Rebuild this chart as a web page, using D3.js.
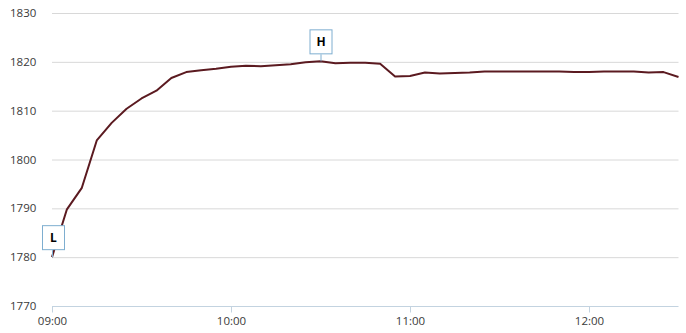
<!DOCTYPE html>
<html>
<head>
<meta charset="utf-8">
<script src="https://cdn.jsdelivr.net/npm/d3@7"></script>
<style>
  body { margin: 0; background: #fff; }
  text { font-family: "Open Sans", sans-serif; }
</style>
</head>
<body>
<script>
var w = 686;
var h = 333;

// minutes are 5 min steps from 09:00
var times = ["09:00","09:05","09:10","09:15","09:20","09:25","09:30","09:35","09:40","09:45",
  "09:50","09:55","10:00","10:05","10:10","10:15","10:20","10:25","10:30","10:35",
  "10:40","10:45","10:50","10:55","11:00","11:05","11:10","11:15","11:20","11:25",
  "11:30","11:35","11:40","11:45","11:50","11:55","12:00","12:05","12:10","12:15",
  "12:20","12:25","12:30"];
var prices = [1780.0,1789.8,1794.2,1803.9,1807.5,1810.4,1812.5,1814.1,1816.7,1817.9,
  1818.3,1818.6,1819.0,1819.2,1819.1,1819.3,1819.5,1819.9,1820.1,1819.7,
  1819.8,1819.8,1819.6,1817.0,1817.1,1817.8,1817.6,1817.7,1817.8,1818.0,
  1818.0,1818.0,1818.0,1818.0,1818.0,1817.9,1817.9,1818.0,1818.0,1818.0,
  1817.8,1817.9,1816.9];
var xTicks = ["09:00","10:00","11:00","12:00"];
var yTicks = [1770,1780,1790,1800,1810,1820,1830];

var parse = d3.timeParse("%H:%M");
var data = times.map(function(t, i) { return {t: parse(t), v: prices[i]}; });

// "top" is taken by window.top, so plot edges get their own names
var pLeft = 52, pRight = 678.5, pTop = 13, pBottom = 306;

var x = d3.scaleTime()
  .domain([parse("09:00"), parse("12:30")])
  .range([pLeft, pRight]);
var y = d3.scaleLinear()
  .domain([1770, 1830])
  .range([pBottom, pTop]);

var svg = d3.select("body").append("svg")
  .attr("width", w)
  .attr("height", h);

// grid
svg.append("g").selectAll("line")
  .data(yTicks.slice(1))
  .enter().append("line")
  .attr("x1", pLeft).attr("x2", pRight)
  .attr("y1", function(d) { return y(d) + 0.5; })
  .attr("y2", function(d) { return y(d) + 0.5; })
  .attr("stroke", "#d8d8d8");

// y labels
svg.append("g").selectAll("text")
  .data(yTicks)
  .enter().append("text")
  .attr("x", 10)
  .attr("y", function(d) { return y(d); })
  .attr("dy", "0.35em")
  .attr("font-size", "11.5px")
  .attr("fill", "#3a3a3a")
  .text(function(d) { return d; });

// x axis
var xAxis = d3.axisBottom(x)
  .tickValues(xTicks.map(parse))
  .tickFormat(d3.timeFormat("%H:%M"))
  .tickSize(6)
  .tickPadding(4);

var gx = svg.append("g")
  .attr("transform", "translate(0," + (pBottom + 0.5) + ")")
  .call(xAxis);
gx.select(".domain").attr("stroke", "#c3d3e0").attr("d", "M" + pLeft + ",0H" + pRight);
gx.selectAll(".tick line").attr("stroke", "#c3d3e0");
gx.selectAll(".tick text")
  .attr("font-family", "Open Sans, sans-serif")
  .attr("font-size", "11.5px")
  .attr("fill", "#3a3a3a");

// price line
var line = d3.line()
  .x(function(d) { return x(d.t); })
  .y(function(d) { return y(d.v); });

svg.append("path")
  .datum(data)
  .attr("d", line)
  .attr("fill", "none")
  .attr("stroke", "#5b1a20")
  .attr("stroke-width", 2)
  .attr("stroke-linejoin", "round");

// high / low flags
var hi = data[d3.maxIndex(prices)];
var lo = data[d3.minIndex(prices)];

function flag(d, label, dx) {
  var px = x(d.t), py = y(d.v);
  var g = svg.append("g");
  g.append("line")
    .attr("x1", px + 0.5).attr("x2", px + 0.5)
    .attr("y1", py - 7).attr("y2", py)
    .attr("stroke", "#7eaed0");
  g.append("rect")
    .attr("x", px + dx - 11 + 0.5)
    .attr("y", py - 31.5)
    .attr("width", 22)
    .attr("height", 24)
    .attr("fill", "#fff")
    .attr("stroke", "#7eaed0");
  g.append("text")
    .attr("x", px + dx + 0.5)
    .attr("y", py - 19.5)
    .attr("dy", "0.36em")
    .attr("text-anchor", "middle")
    .attr("font-family", "Liberation Sans, Arial, sans-serif")
    .attr("font-weight", "bold")
    .attr("font-size", "12px")
    .attr("fill", "#000")
    .text(label);
}

flag(hi, "H", 0);
flag(lo, "L", 1);
</script>
</body>
</html>
